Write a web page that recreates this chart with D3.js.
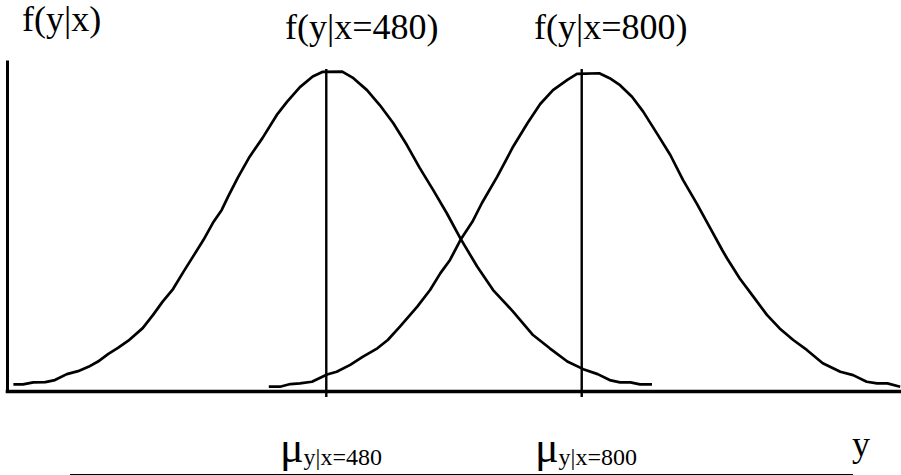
<!DOCTYPE html>
<html>
<head>
<meta charset="utf-8">
<script src="https://cdn.jsdelivr.net/npm/d3@7"></script>
<style>
  html, body { margin: 0; padding: 0; background: #fff; }
  svg { display: block; }
</style>
</head>
<body>
<script>
// Conditional densities of y for two values of x (relative height, peak ≈ 1)
const means = [480, 800];

const yGrid480 = [88, 100, 113, 128, 140, 155, 169, 182, 194, 207, 219, 232, 250, 263, 275, 288, 301, 313, 326, 338, 349, 357, 369, 384, 400, 418, 431, 447, 463, 475, 500, 514, 531, 547, 564, 581, 597, 614, 631, 648, 669, 689, 714, 739, 760, 782, 802, 820, 835, 848, 861, 873, 888];
const dens480 = [0.020, 0.020, 0.026, 0.027, 0.033, 0.051, 0.060, 0.073, 0.089, 0.112, 0.130, 0.152, 0.190, 0.230, 0.270, 0.308, 0.360, 0.406, 0.456, 0.508, 0.547, 0.587, 0.644, 0.708, 0.764, 0.834, 0.874, 0.918, 0.950, 0.964, 0.965, 0.945, 0.909, 0.864, 0.809, 0.743, 0.674, 0.607, 0.537, 0.461, 0.376, 0.305, 0.240, 0.169, 0.129, 0.089, 0.066, 0.051, 0.033, 0.026, 0.026, 0.020, 0.020];

const yGrid800 = [408, 422, 435, 447, 462, 481, 493, 510, 526, 544, 557, 572, 594, 610, 623, 635, 648, 663, 675, 694, 714, 732, 748, 764, 782, 794, 822, 835, 848, 863, 877, 894, 911, 927, 944, 961, 976, 982, 998, 1015, 1032, 1048, 1065, 1082, 1102, 1124, 1140, 1157, 1170, 1183, 1199];
const dens800 = [0.013, 0.013, 0.021, 0.023, 0.028, 0.050, 0.058, 0.079, 0.104, 0.129, 0.154, 0.194, 0.255, 0.305, 0.356, 0.396, 0.456, 0.511, 0.568, 0.647, 0.738, 0.809, 0.867, 0.909, 0.940, 0.958, 0.960, 0.945, 0.924, 0.889, 0.844, 0.779, 0.713, 0.637, 0.567, 0.492, 0.426, 0.401, 0.340, 0.285, 0.230, 0.189, 0.154, 0.124, 0.084, 0.058, 0.048, 0.028, 0.023, 0.023, 0.013];

const topLabels = ["f(y|x=480)", "f(y|x=800)"];
const meanSubs = ["y|x=480", "y|x=800"];
const yLabel = "f(y|x)";
const xLabel = "y";

const W = 901, H = 475;
const FONT = "'Liberation Serif', 'Times New Roman', Times, 'DejaVu Serif', serif";

const x = d3.scaleLinear().domain([80, 1200]).range([7, 901]);
const y = d3.scaleLinear().domain([0, 1]).range([391, 60]);

const svg = d3.select("body").append("svg")
  .attr("width", W).attr("height", H)
  .style("font-family", FONT);

// Vertical lines at each conditional mean, with a short tick below the axis
svg.append("g").selectAll("line").data(means).join("line")
  .attr("x1", d => x(d)).attr("x2", d => x(d))
  .attr("y1", y(-0.018)).attr("y2", y(0.973))
  .attr("stroke", "#000").attr("stroke-width", 2.4);

// Density curves
const line = d3.line().x(d => x(d[0])).y(d => y(d[1]));
const curves = [d3.zip(yGrid480, dens480), d3.zip(yGrid800, dens800)];
svg.append("g").selectAll("path").data(curves).join("path")
  .attr("d", line)
  .attr("fill", "none").attr("stroke", "#000")
  .attr("stroke-width", 2.7).attr("stroke-linejoin", "round");

// Axes without ticks
const xAxis = svg.append("g").attr("transform", `translate(0,${y(0)})`)
  .call(d3.axisBottom(x).tickValues([]).tickSizeOuter(0));
xAxis.select(".domain").attr("stroke", "#000").attr("stroke-width", 3.6).attr("stroke-linecap", "square");

const yAxis = svg.append("g").attr("transform", `translate(${x(80)},0)`)
  .call(d3.axisLeft(y).tickValues([]).tickSizeOuter(0));
yAxis.select(".domain").attr("stroke", "#000").attr("stroke-width", 3);

// Titles
svg.append("text").attr("x", 22).attr("y", 31)
  .attr("font-family", FONT).attr("font-size", 36).text(yLabel);

const topPos = [285, 534];
svg.append("g").selectAll("text").data(topLabels).join("text")
  .attr("x", (d, i) => topPos[i]).attr("y", 39)
  .attr("font-family", FONT).attr("font-size", 36).text(d => d);

// Mean labels below the axis
const muPos = [280, 535];
const mu = svg.append("g").selectAll("text").data(meanSubs).join("text")
  .attr("x", (d, i) => muPos[i]).attr("y", 462)
  .attr("font-family", FONT);
mu.append("tspan").attr("font-size", 44).text("μ");
mu.append("tspan").attr("font-size", 24).attr("dy", 3).text(d => d);

svg.append("text").attr("x", 852).attr("y", 456)
  .attr("font-family", FONT).attr("font-size", 36).text(xLabel);

// Rule under the labels
svg.append("line").attr("x1", 70).attr("x2", 853).attr("y1", 474.5).attr("y2", 474.5)
  .attr("stroke", "#000").attr("stroke-width", 1);
</script>
</body>
</html>
